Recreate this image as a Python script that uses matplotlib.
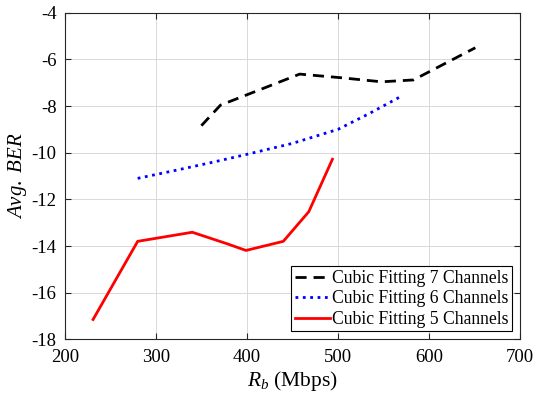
import matplotlib
matplotlib.use("Agg")
import matplotlib.pyplot as plt

plt.rcParams["font.family"] = ["Liberation Serif", "DejaVu Serif"]
plt.rcParams["mathtext.fontset"] = "custom"
plt.rcParams["mathtext.rm"] = "Liberation Serif"
plt.rcParams["mathtext.it"] = "Liberation Serif:italic"
plt.rcParams["axes.unicode_minus"] = False

# cubic fits of avg BER vs bit rate
rb7 = [350, 371, 458, 502, 548, 583, 651]
ber7 = [-8.84, -7.96, -6.63, -6.78, -6.96, -6.88, -5.5]

rb6 = [280, 320, 360, 400, 450, 500, 535, 571]
ber6 = [-11.1, -10.77, -10.43, -10.07, -9.6, -9.0, -8.31, -7.55]

rb5 = [231, 280, 340, 378, 399, 440, 468, 494]
ber5 = [-17.15, -13.8, -13.41, -13.9, -14.19, -13.8, -12.53, -10.28]

xticks = [200, 300, 400, 500, 600, 700]
yticks = [-18, -16, -14, -12, -10, -8, -6, -4]

fig = plt.figure(figsize=(5.36, 3.99), dpi=100)
ax = fig.add_axes([0.121, 0.1496, 0.849, 0.8184])

ax.plot(rb7, ber7, color="black", lw=2, dashes=[4, 2.5], label="Cubic Fitting 7 Channels")
ax.plot(rb6, ber6, color="blue", lw=2, ls=":", label="Cubic Fitting 6 Channels")
ax.plot(rb5, ber5, color="red", lw=2, label="Cubic Fitting 5 Channels")

ax.set_xlim(200, 700)
ax.set_ylim(-18, -4)
ax.set_xticks(xticks)
ax.set_yticks(yticks)
ax.grid(True, color="0.85", lw=0.7)
ax.set_axisbelow(True)
ax.tick_params(direction="in", top=True, right=True, labelsize=13.5, length=4, color="0.15")
ax.tick_params(axis="x", pad=7)
ax.tick_params(axis="y", pad=6)
for s in ax.spines.values():
    s.set_color("0.15")
    s.set_linewidth(0.8)

ax.set_xlabel(r"$R_b$ (Mbps)", fontsize=15.5, labelpad=2)
ax.set_ylabel(r"$Avg.\ BER$", fontsize=15, labelpad=2)

leg = ax.legend(loc="lower right", fontsize=12.7, handlelength=2, handletextpad=0.1,
                labelspacing=0.2, borderpad=0.2, borderaxespad=0.45, fancybox=False,
                framealpha=1, edgecolor="black")
leg.get_frame().set_linewidth(0.8)

fig.savefig("out.png", dpi=100)
